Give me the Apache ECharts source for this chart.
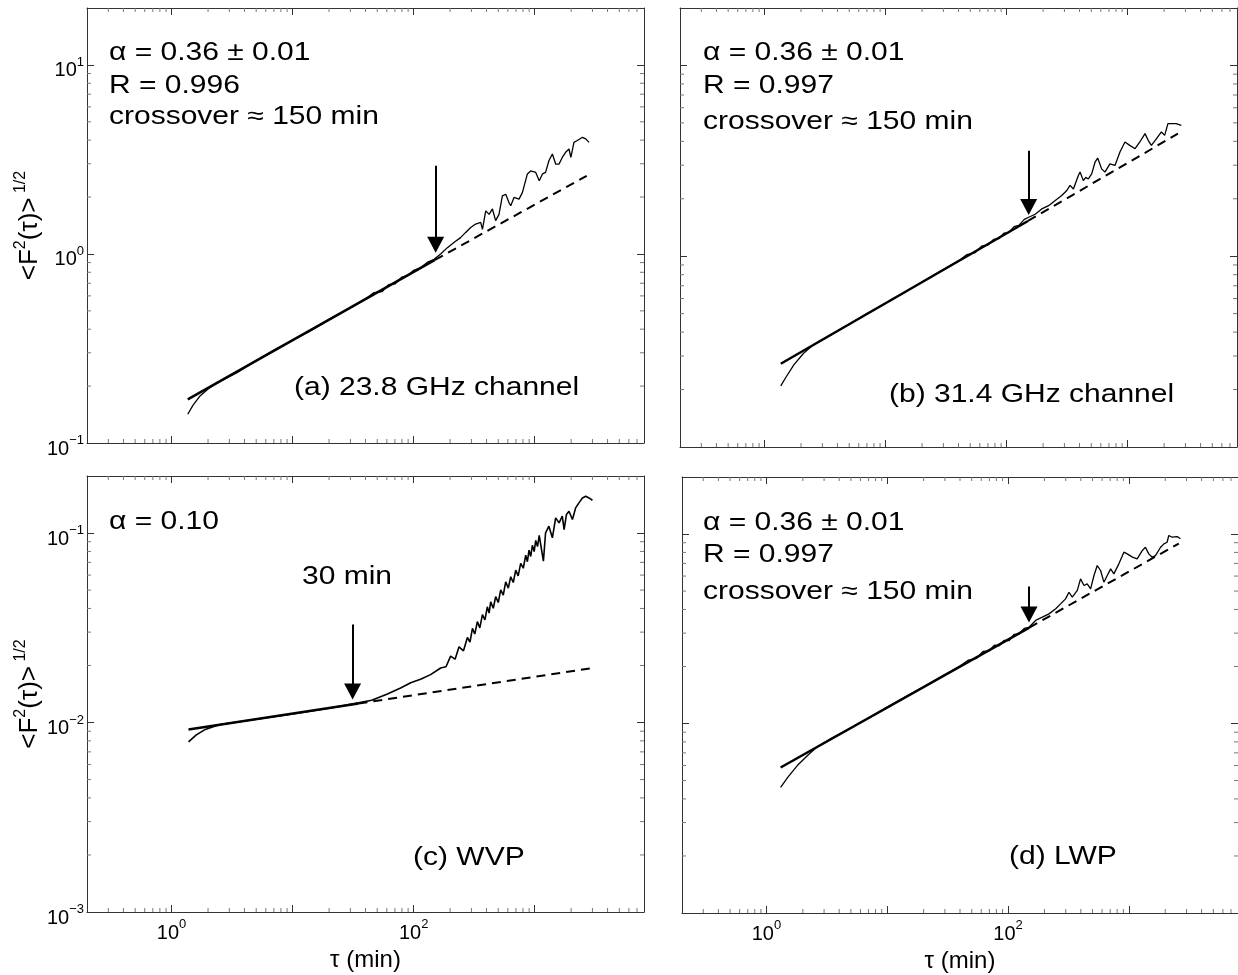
<!DOCTYPE html>
<html>
<head>
<meta charset="utf-8">
<title>DFA fluctuation functions</title>
<script src="https://cdn.jsdelivr.net/npm/echarts@6/dist/echarts.min.js"></script>
<style>
html, body { margin: 0; padding: 0; background: #fff; }
#main { width: 1238px; height: 975px; }
</style>
</head>
<body>
<div id="main"></div>
<script>
// (a) 23.8 GHz channel
var tauA = [1.36, 1.5, 1.7, 2.0, 2.3, 2.6, 3.5, 5, 7, 10, 14, 20, 28, 40, 47, 55, 62, 70, 80, 90, 100, 114, 130, 145, 167, 190, 215, 244, 269, 296, 325, 358, 370, 394, 420, 447, 476, 507, 541, 576, 613, 634, 675, 742, 791, 870, 927, 1020, 1090, 1160, 1230, 1310, 1400, 1490, 1590, 1690, 1800, 1920, 1990, 2110, 2250, 2480, 2640, 2810]
var fA = [0.142, 0.158, 0.176, 0.193, 0.205, 0.214, 0.236, 0.273, 0.31, 0.35, 0.392, 0.448, 0.505, 0.578, 0.625, 0.632, 0.688, 0.694, 0.755, 0.77, 0.82, 0.845, 0.905, 0.93, 1.00, 1.08, 1.15, 1.22, 1.30, 1.38, 1.44, 1.47, 1.35, 1.69, 1.62, 1.73, 1.50, 1.62, 2.03, 2.07, 1.87, 1.80, 1.99, 1.95, 2.11, 2.65, 2.75, 2.70, 2.44, 2.65, 2.70, 3.11, 3.38, 2.99, 2.99, 3.24, 3.45, 3.59, 3.24, 3.89, 3.98, 4.14, 4.06, 3.89]
var fitTauA = [1.36, 150, 2690]
var fitA = [0.17, 0.93, 2.59]

// (b) 31.4 GHz channel
var tauB = [1.36, 1.5, 1.75, 2.1, 2.53, 3.5, 5, 7, 10, 14, 20, 28, 40, 47, 55, 62, 70, 78, 86, 95, 104, 115, 126, 140, 152, 172, 195, 222, 252, 285, 314, 334, 356, 391, 404, 430, 450, 473, 504, 537, 565, 609, 649, 713, 785, 863, 949, 1040, 1150, 1260, 1390, 1480, 1570, 1730, 1900, 2020, 2150, 2290, 2520, 2770]
var fB = [0.209, 0.232, 0.27, 0.31, 0.343, 0.386, 0.44, 0.50, 0.567, 0.64, 0.733, 0.83, 0.945, 1.02, 1.045, 1.13, 1.145, 1.225, 1.235, 1.32, 1.33, 1.43, 1.45, 1.56, 1.60, 1.66, 1.77, 1.84, 1.96, 2.08, 2.21, 2.35, 2.25, 2.65, 2.76, 2.49, 2.59, 2.54, 2.70, 3.11, 3.27, 2.87, 2.76, 3.05, 2.99, 3.52, 3.97, 3.81, 3.66, 3.97, 4.39, 4.04, 3.81, 4.13, 4.48, 4.30, 4.95, 4.95, 4.95, 4.85]
var fitTauB = [1.36, 150, 2600]
var fitB = [0.273, 1.53, 4.39]

// (c) WVP
var tauC = [1.38, 1.6, 1.9, 2.3, 2.6, 5, 10, 20, 35, 45, 60, 78, 94.5, 114, 138, 167, 185, 202, 220, 237, 258, 278, 292, 306, 320, 336, 352, 370, 388, 406, 420, 433, 455, 476, 500, 524, 550, 576, 605, 634, 665, 697, 730, 766, 805, 843, 870, 898, 927, 957, 990, 1020, 1055, 1090, 1180, 1230, 1310, 1400, 1490, 1590, 1690, 1750, 1830, 1920, 2050, 2180, 2320, 2480, 2640, 2810, 3000]
var fC = [0.0079, 0.0086, 0.0092, 0.0096, 0.0098, 0.0104, 0.0111, 0.0119, 0.0127, 0.0131, 0.0141, 0.0152, 0.0162, 0.0169, 0.0179, 0.0194, 0.0197, 0.0224, 0.0216, 0.0251, 0.0239, 0.0281, 0.0266, 0.0314, 0.0293, 0.0341, 0.0316, 0.0371, 0.0348, 0.0408, 0.0378, 0.0433, 0.0401, 0.0462, 0.0430, 0.0501, 0.0470, 0.0553, 0.0512, 0.0588, 0.0548, 0.0637, 0.0594, 0.0692, 0.0652, 0.0764, 0.0706, 0.0812, 0.0752, 0.0862, 0.0798, 0.0915, 0.0848, 0.0972, 0.0710, 0.1003, 0.1087, 0.0944, 0.1202, 0.1132, 0.1228, 0.1043, 0.1253, 0.1303, 0.1178, 0.1358, 0.1443, 0.1532, 0.1563, 0.1532, 0.149]
var fitTauC = [1.38, 35, 2850]
var fitC = [0.00919, 0.0126, 0.0193]

// (d) LWP
var tauD = [1.31, 1.5, 1.8, 2.2, 2.6, 3.5, 5, 7, 10, 14, 20, 28, 40, 47, 55, 62, 70, 77, 84.3, 93, 102, 112, 123, 136, 149, 169, 192, 218, 248, 272, 299, 319, 340, 374, 398, 425, 452, 482, 514, 547, 583, 621, 662, 706, 751, 826, 909, 969, 1070, 1170, 1290, 1370, 1460, 1560, 1660, 1830, 1950, 2070, 2140, 2280, 2510, 2670]
var fD = [0.0046, 0.0052, 0.0060, 0.0068, 0.0075, 0.0084, 0.0095, 0.0107, 0.0122, 0.0138, 0.0156, 0.0177, 0.0201, 0.0216, 0.0221, 0.0240, 0.0242, 0.0259, 0.0257, 0.0275, 0.0274, 0.0295, 0.0297, 0.0318, 0.0322, 0.0350, 0.0364, 0.0379, 0.0403, 0.0428, 0.0455, 0.0493, 0.0464, 0.0504, 0.0580, 0.0535, 0.0546, 0.0514, 0.0604, 0.0682, 0.0642, 0.0557, 0.0604, 0.0655, 0.0616, 0.0696, 0.0802, 0.0786, 0.0755, 0.0740, 0.0818, 0.0852, 0.0786, 0.0755, 0.0770, 0.0852, 0.0887, 0.0905, 0.0982, 0.0962, 0.0970, 0.0944]
var fitTauD = [1.31, 150, 2590]
var fitD = [0.00586, 0.0321, 0.0891]

// crossover arrows (a, b, c, d): shaft top and centre of the arrow head
var arrowTau = [152, 152, 31.3, 149]
var arrowTop = [2.93, 3.57, 0.0329, 0.0528]
var arrowHead = [1.12, 1.81, 0.0146, 0.0376]

var xRange = [0.2, 8000]
var yRangeTop = [0.1, 20]
var yRangeBottom = [0.001, 0.2]
var xLabelExps = [0, 2]
var minorMult = [2, 3, 4, 5, 6, 7, 8, 9]

var FONT = 'Liberation Sans'
var TXT_SIZE = 25
var TXT_SX = 1.2

function zip(xs, ys) {
  return xs.map(function (x, i) { return [x, ys[i]] })
}

function expLabel(v, only) {
  var e = Math.log10(v)
  var r = Math.round(e)
  if (Math.abs(e - r) > 1e-6) return ''
  if (only && only.indexOf(r) < 0) return ''
  return '{b|10}{s|' + (r < 0 ? '\u2212' + (-r) : r) + '}'
}

var labelRich = {
  b: { fontSize: 20, lineHeight: 30, color: '#000', fontFamily: FONT },
  s: { fontSize: 13, lineHeight: 14, verticalAlign: 'top', color: '#000', fontFamily: FONT }
}

var grids = [
  { left: 87, top: 8, width: 557, height: 435 },
  { left: 680, top: 8, width: 557, height: 439 },
  { left: 87, top: 476, width: 557, height: 436 },
  { left: 682, top: 477, width: 556, height: 436 }
]

function baseAxis(g, pos) {
  return {
    type: 'log',
    logBase: 10,
    gridIndex: g,
    position: pos,
    axisLine: { show: true, onZero: false, lineStyle: { color: '#333', width: 1 } },
    axisTick: { show: true, inside: true, length: 7, lineStyle: { color: '#333', width: 1 } },
    splitLine: { show: false },
    axisLabel: { show: false }
  }
}

var xAxes = []
var yAxes = []
grids.forEach(function (gr, g) {
  var bottomRow = g >= 2
  var leftCol = g % 2 === 0
  var yr = bottomRow ? yRangeBottom : yRangeTop

  var xb = baseAxis(g, 'bottom')
  xb.min = xRange[0]; xb.max = xRange[1]
  if (bottomRow) {
    xb.axisLabel = {
      show: true, margin: 6, fontSize: 20, fontFamily: FONT, color: '#000', rich: labelRich,
      showMinLabel: false, showMaxLabel: false,
      formatter: function (v) { return expLabel(v, xLabelExps) }
    }
    xb.name = '\u03c4 (min)'
    xb.nameLocation = 'middle'
    xb.nameGap = 36
    xb.nameTextStyle = { fontSize: 24, color: '#000', fontFamily: FONT }
  }
  var xt = baseAxis(g, 'top')
  xt.min = xRange[0]; xt.max = xRange[1]
  xAxes.push(xb, xt)

  var yl = baseAxis(g, 'left')
  yl.min = yr[0]; yl.max = yr[1]
  if (leftCol) {
    yl.axisLabel = {
      show: true, margin: 3, fontSize: 20, fontFamily: FONT, color: '#000', rich: labelRich,
      padding: [12, 0, 0, 0],
      showMaxLabel: false,
      formatter: function (v) { return expLabel(v) }
    }
    yl.name = '{a|<F}{s|2}{a|(\u03c4)>}{s| 1/2}'
    yl.nameLocation = 'middle'
    yl.nameRotate = 90
    yl.nameGap = 33
    yl.nameTextStyle = {
      fontSize: 26, fontFamily: FONT, color: '#000',
      rich: {
        a: { fontSize: 26, lineHeight: 34, color: '#000', fontFamily: FONT },
        s: { fontSize: 16, lineHeight: 16, verticalAlign: 'top', color: '#000', fontFamily: FONT }
      }
    }
  }
  var yr2 = baseAxis(g, 'right')
  yr2.min = yr[0]; yr2.max = yr[1]
  yAxes.push(yl, yr2)
})

// minor ticks at 2..9 x 10^k on all four sides of each box
function minorValues(lo, hi) {
  var out = []
  for (var k = Math.floor(Math.log10(lo)); k <= Math.ceil(Math.log10(hi)); k++) {
    minorMult.forEach(function (m) {
      var v = m * Math.pow(10, k)
      if (v > lo && v < hi) out.push(v)
    })
  }
  return out
}

function minorSeries(g) {
  var yr = g >= 2 ? yRangeBottom : yRangeTop
  var items = []
  minorValues(xRange[0], xRange[1]).forEach(function (v) { items.push([v, yr[0], 0]) })
  minorValues(yr[0], yr[1]).forEach(function (v) { items.push([xRange[0], v, 1]) })
  return {
    type: 'custom', xAxisIndex: 2 * g, yAxisIndex: 2 * g, silent: true, animation: false, z: 1,
    encode: { x: 0, y: 1 },
    data: items,
    renderItem: function (params, api) {
      var cs = params.coordSys
      var p = api.coord([api.value(0), api.value(1)])
      var L = 4
      var st = { stroke: '#777', lineWidth: 1 }
      if (api.value(2) === 0) {
        return { type: 'group', children: [
          { type: 'line', shape: { x1: p[0], y1: cs.y + cs.height, x2: p[0], y2: cs.y + cs.height - L }, style: st },
          { type: 'line', shape: { x1: p[0], y1: cs.y, x2: p[0], y2: cs.y + L }, style: st }
        ] }
      }
      return { type: 'group', children: [
        { type: 'line', shape: { x1: cs.x, y1: p[1], x2: cs.x + L, y2: p[1] }, style: st },
        { type: 'line', shape: { x1: cs.x + cs.width, y1: p[1], x2: cs.x + cs.width - L, y2: p[1] }, style: st }
      ] }
    }
  }
}

function panelSeries(g, tau, f, fitTau, fit, dataWidth) {
  var common = { type: 'line', xAxisIndex: 2 * g, yAxisIndex: 2 * g, symbol: 'none', showSymbol: false, silent: true, animation: false }
  return [
    Object.assign({}, common, {
      name: 'data' + g,
      data: zip(tau, f),
      lineStyle: { color: '#000', width: dataWidth },
      z: 3
    }),
    Object.assign({}, common, {
      name: 'fit' + g,
      data: zip(fitTau.slice(0, 2), fit.slice(0, 2)),
      lineStyle: { color: '#000', width: 2.5 },
      z: 2
    }),
    Object.assign({}, common, {
      name: 'extrap' + g,
      data: zip(fitTau.slice(1), fit.slice(1)),
      lineStyle: { color: '#000', width: 2, type: [9, 6] },
      z: 2,
      markLine: {
        silent: true,
        animation: false,
        symbol: ['none', 'triangle'],
        symbolSize: [17, 16],
        label: { show: false },
        lineStyle: { color: '#000', width: 2, type: 'solid' },
        data: [[{ coord: [arrowTau[g], arrowTop[g]] }, { coord: [arrowTau[g], arrowHead[g]] }]]
      }
    }),
    minorSeries(g)
  ]
}

var series = [].concat(
  panelSeries(0, tauA, fA, fitTauA, fitA, 1.3),
  panelSeries(1, tauB, fB, fitTauB, fitB, 1.3),
  panelSeries(2, tauC, fC, fitTauC, fitC, 1.6),
  panelSeries(3, tauD, fD, fitTauD, fitD, 1.3)
)

function txt(x, y, s) {
  return {
    type: 'text', x: x, y: y, scaleX: TXT_SX, silent: true,
    style: { text: s, fontSize: TXT_SIZE, fontFamily: FONT, fill: '#000', align: 'left', verticalAlign: 'middle' }
  }
}

var graphics = [
  txt(109, 53, '\u03b1 = 0.36 \u00b1 0.01'),
  txt(109, 86, 'R = 0.996'),
  txt(109, 117, 'crossover \u2248 150 min'),
  txt(294, 388, '(a) 23.8 GHz channel'),
  txt(703, 53, '\u03b1 = 0.36 \u00b1 0.01'),
  txt(703, 86, 'R = 0.997'),
  txt(703, 122, 'crossover \u2248 150 min'),
  txt(889, 395, '(b) 31.4 GHz channel'),
  txt(109, 522, '\u03b1 = 0.10'),
  txt(302, 577, '30 min'),
  txt(413, 858, '(c) WVP'),
  txt(703, 523, '\u03b1 = 0.36 \u00b1 0.01'),
  txt(703, 555, 'R = 0.997'),
  txt(703, 592, 'crossover \u2248 150 min'),
  txt(1009, 857, '(d) LWP')
]

var myChart = echarts.init(document.getElementById('main'))
var option = {
  backgroundColor: '#fff',
  animation: false,
  textStyle: { fontFamily: FONT, color: '#000' },
  grid: grids,
  xAxis: xAxes,
  yAxis: yAxes,
  series: series,
  graphic: graphics
}
myChart.setOption(option)
</script>
</body>
</html>
